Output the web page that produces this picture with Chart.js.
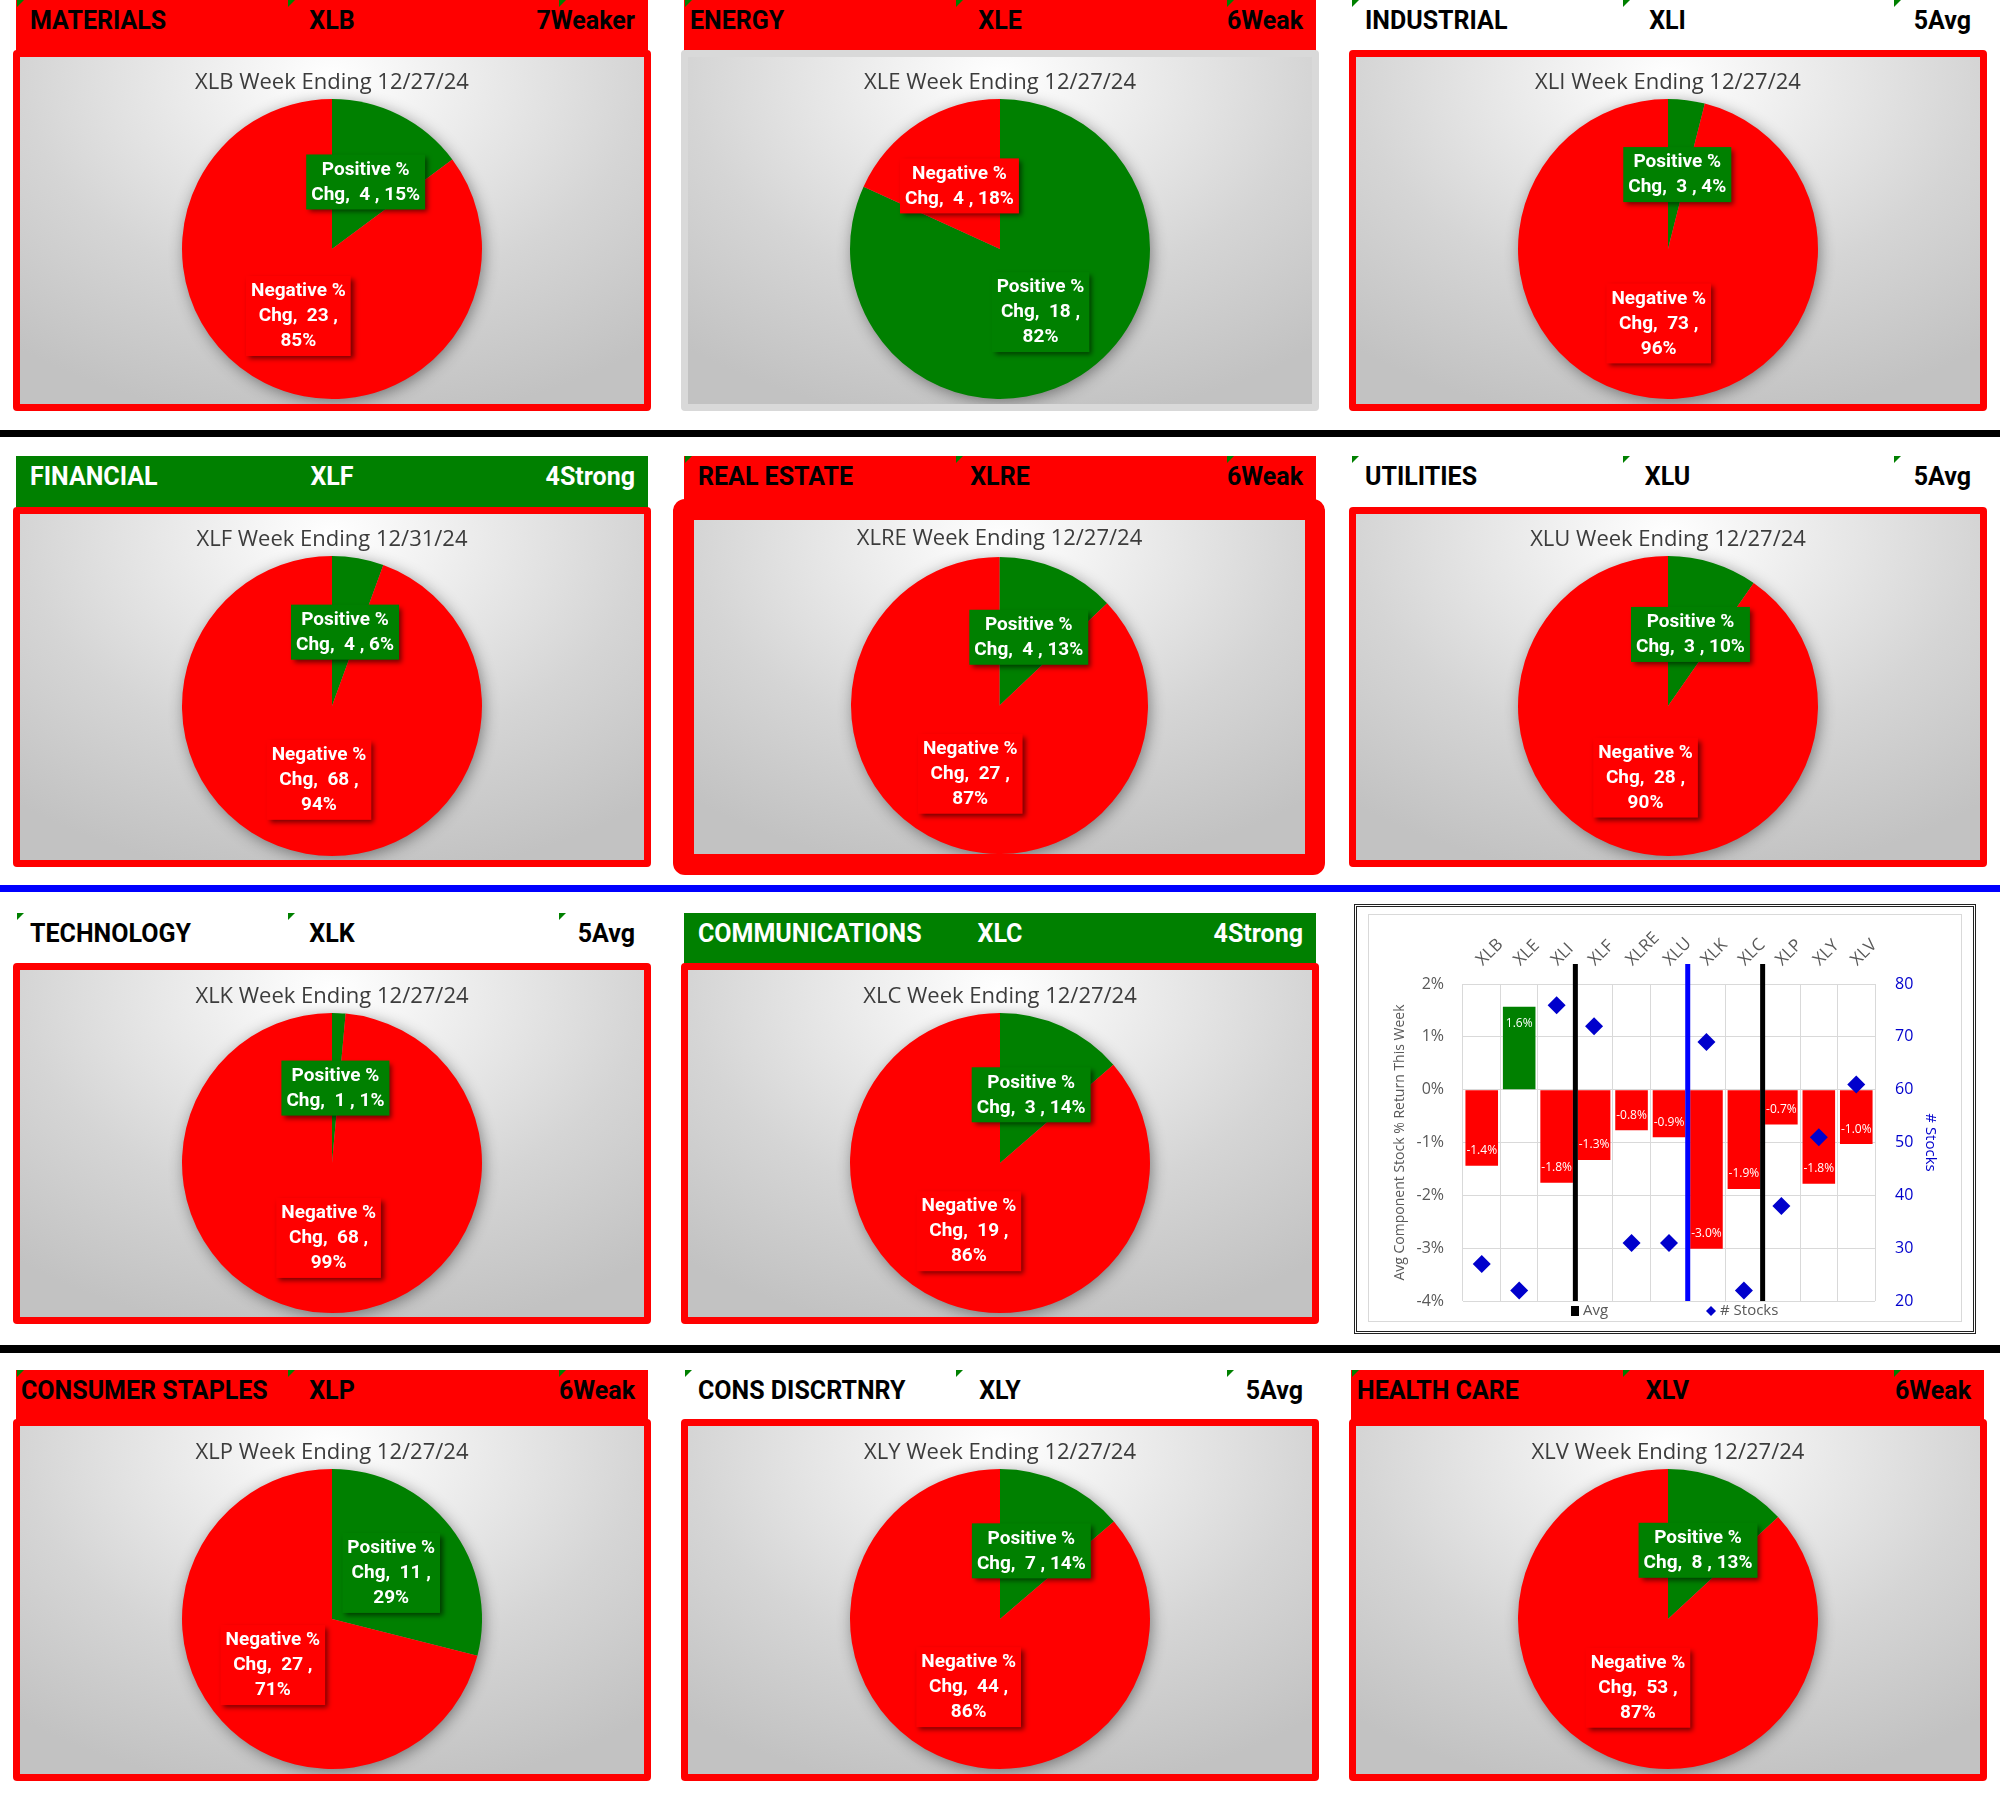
<!DOCTYPE html>
<html>
<head>
<meta charset="utf-8">
<title>Sector breadth</title>
<script src="https://cdn.jsdelivr.net/npm/chart.js@4.4.1/dist/chart.umd.min.js"></script>
<style>
  html, body { margin: 0; padding: 0; background: #fff; }
  body { width: 2000px; height: 1802px; position: relative; overflow: hidden; font-family: Roboto, "Open Sans", sans-serif; }
  .abs { position: absolute; box-sizing: border-box; }
  .hdr { z-index: 1; }
  .hdr span { position: absolute; top: 0; line-height: 42px; font-size: 25px; font-weight: 700; white-space: nowrap; }
  .tri { position: absolute; top: 0; width: 0; height: 0; border-top: 7px solid #008000; border-right: 7px solid transparent; }
  .panel { z-index: 2; border: 7px solid #ff0000; border-radius: 4px; background: #fff; }
  .inner { position: absolute; left: 0; top: 0; right: 0; bottom: 0;
    background: radial-gradient(ellipse 80% 100% at 50% 6%, #ffffff 0%, #ececec 28%, #d5d5d5 62%, #c2c2c2 100%); }
  .sep { left: 0; width: 2000px; }
</style>
</head>
<body>
<script>
// ---- data ----
const sectorNames = ['MATERIALS', 'ENERGY', 'INDUSTRIAL', 'FINANCIAL', 'REAL ESTATE', 'UTILITIES',
  'TECHNOLOGY', 'COMMUNICATIONS', 'CONSUMER STAPLES', 'CONS DISCRTNRY', 'HEALTH CARE'];
const tickers = ['XLB', 'XLE', 'XLI', 'XLF', 'XLRE', 'XLU', 'XLK', 'XLC', 'XLP', 'XLY', 'XLV'];
const ratings = ['7Weaker', '6Weak', '5Avg', '4Strong', '6Weak', '5Avg', '5Avg', '4Strong', '6Weak', '5Avg', '6Weak'];
const weekEnding = ['12/27/24', '12/27/24', '12/27/24', '12/31/24', '12/27/24', '12/27/24',
  '12/27/24', '12/27/24', '12/27/24', '12/27/24', '12/27/24'];
const sliceNames = ['Positive % Chg', 'Negative % Chg'];
const positiveCounts = [4, 18, 3, 4, 4, 3, 1, 3, 11, 7, 8];
const negativeCounts = [23, 4, 73, 68, 27, 28, 68, 19, 27, 44, 53];
const avgReturnPct = [-1.44, 1.57, -1.76, -1.33, -0.77, -0.90, -3.01, -1.88, -0.66, -1.78, -1.03];
const stockCounts = [27, 22, 76, 72, 31, 31, 69, 22, 38, 51, 61];
const returnTicks = [-4, -3, -2, -1, 0, 1, 2];
const stockTicks = [20, 30, 40, 50, 60, 70, 80];
const groupBreaks = [3, 6, 8];   // vertical divider before these categories

// ---- layout ----
const GREEN = '#008000', RED = '#ff0000';
const hdrLeft = [16, 684, 1351];
const hdrW = [632, 632, 633];
const panelLeft = [13, 681, 1349];
const panelW = 638;
const rowHdrTop = [0, 456, 913, 1370];
const rowPanelTop = [50, 507, 963, 1419];
const rowPanelH = [361, 360, 361, 362];
const rowPieCenter = [199, 199, 200, 200];
const slots = [[0, 0], [0, 1], [0, 2], [1, 0], [1, 1], [1, 2], [2, 0], [2, 1], [3, 0], [3, 1], [3, 2]];
const leftIndent = { 1: 6, 8: 5, 10: 6 };
const groupBreakColors = ['#000000', '#0000ff', '#000000'];

function box(cls, x, y, w, h, parent) {
  const d = document.createElement('div');
  d.className = 'abs ' + cls;
  d.style.left = x + 'px'; d.style.top = y + 'px';
  d.style.width = w + 'px'; d.style.height = h + 'px';
  (parent || document.body).appendChild(d);
  return d;
}

// row separators
box('sep', 0, 430, 2000, 7).style.background = '#000';
box('sep', 0, 885, 2000, 7).style.background = '#0000ff';
box('sep', 0, 1345, 2000, 8).style.background = '#000';

// pie helpers
const pieShadow = {
  id: 'pieShadow',
  beforeDatasetsDraw(chart) {
    const arc = chart.getDatasetMeta(0).data[0];
    if (!arc) return;
    const ctx = chart.ctx;
    ctx.save();
    ctx.shadowColor = 'rgba(0,0,0,0.45)';
    ctx.shadowBlur = 16;
    ctx.shadowOffsetX = 2;
    ctx.shadowOffsetY = 3;
    ctx.fillStyle = '#999';
    ctx.beginPath();
    ctx.arc(arc.x, arc.y, arc.outerRadius - 1, 0, Math.PI * 2);
    ctx.fill();
    ctx.restore();
  }
};

const pieLabels = {
  id: 'pieLabels',
  afterDatasetsDraw(chart) {
    const ds = chart.data.datasets[0];
    const total = ds.data.reduce((a, b) => a + b, 0);
    const ctx = chart.ctx;
    ctx.save();
    ctx.font = 'bold 19px Roboto';
    chart.getDatasetMeta(0).data.forEach((arc, j) => {
      const v = ds.data[j];
      const pct = Math.round(v / total * 100) + '%';
      const head = chart.data.labels[j].replace(/ Chg$/, '');
      const lines = v >= 10 ? [head, 'Chg,  ' + v + ' ,', pct] : [head, 'Chg,  ' + v + ' , ' + pct];
      const p = arc.tooltipPosition(true);
      const lh = 25;
      const w = Math.max(...lines.map(t => ctx.measureText(t).width)) + 10;
      const h = lines.length * lh + 5;
      ctx.save();
      ctx.shadowColor = 'rgba(0,0,0,0.55)';
      ctx.shadowBlur = 5;
      ctx.shadowOffsetX = 3;
      ctx.shadowOffsetY = 3;
      ctx.fillStyle = ds.backgroundColor[j];
      ctx.fillRect(p.x - w / 2, p.y - h / 2, w, h);
      ctx.restore();
      ctx.fillStyle = '#fff';
      ctx.textAlign = 'center';
      ctx.textBaseline = 'middle';
      lines.forEach((t, k) => ctx.fillText(t, p.x, p.y - h / 2 + 3 + lh * (k + 0.5)));
    });
    ctx.restore();
  }
};

function makePie(parent, i, innerH, titleCenter, pieTop, R) {
  const cv = document.createElement('canvas');
  parent.appendChild(cv);
  new Chart(cv, {
    type: 'pie',
    data: {
      labels: sliceNames,
      datasets: [{
        data: [positiveCounts[i], negativeCounts[i]],
        backgroundColor: [GREEN, RED],
        borderWidth: 0
      }]
    },
    options: {
      responsive: true,
      maintainAspectRatio: false,
      animation: false,
      layout: { padding: { top: 0, left: 0, right: 0, bottom: innerH - pieTop - 2 * R } },
      plugins: {
        legend: { display: false },
        tooltip: { enabled: false },
        title: {
          display: true,
          text: tickers[i] + ' Week Ending ' + weekEnding[i],
          color: '#3c3c3c',
          font: { family: 'Open Sans', size: 22, weight: 500, lineHeight: 1.2 },
          padding: { top: titleCenter - 13.2, bottom: pieTop - titleCenter - 13.2 }
        }
      }
    },
    plugins: [pieShadow, pieLabels]
  });
}

// sector panels
sectorNames.forEach((name, i) => {
  const [r, c] = slots[i];
  const grade = parseInt(ratings[i], 10);
  const fill = grade <= 4 ? GREEN : (grade >= 6 ? RED : 'transparent');
  const txt = grade <= 4 ? '#fff' : '#000';
  const hy = rowHdrTop[r], hh = rowPanelTop[r] - hy + 4;
  const hdr = box('hdr', hdrLeft[c], hy, hdrW[c], hh);
  hdr.style.background = fill;
  if (grade > 4) {
    [1, 272, 543].forEach(x => { const t = document.createElement('div'); t.className = 'tri'; t.style.left = x + 'px'; hdr.appendChild(t); });
  }
  const s1 = document.createElement('span');
  s1.textContent = name; s1.style.left = (leftIndent[i] !== undefined ? leftIndent[i] : 14) + 'px'; s1.style.color = txt;
  const s2 = document.createElement('span');
  s2.textContent = tickers[i]; s2.style.left = '0'; s2.style.width = '100%'; s2.style.textAlign = 'center'; s2.style.color = txt;
  const s3 = document.createElement('span');
  s3.textContent = ratings[i]; s3.style.right = '13px'; s3.style.color = txt;
  hdr.append(s1, s2, s3);

  if (tickers[i] === 'XLRE') {
    const p = box('panel', 673, 499, 652, 376);
    p.style.borderWidth = '21px'; p.style.borderRadius = '12px';
    const inner = box('inner', 0, 0, 611, 334, p);
    inner.style.position = 'absolute';
    makePie(inner, i, 334, 19, 37, 148.5);
  } else {
    const p = box('panel', panelLeft[c], rowPanelTop[r], panelW, rowPanelH[r]);
    if (tickers[i] === 'XLE') p.style.borderColor = '#d9d9d9';
    const innerH = rowPanelH[r] - 14;
    const inner = box('inner', 0, 0, panelW - 14, innerH, p);
    makePie(inner, i, innerH, rowPieCenter[r] - 7 - 166, rowPieCenter[r] - 7 - 150, 150);
  }
});

// ---- combined bar / diamond chart ----
const frame = box('', 1354, 904, 622, 430);
frame.style.border = '3px double #222';
frame.style.zIndex = 2;
const plotBox = box('', 1368, 914, 594, 408);
plotBox.style.border = '1px solid #d9d9d9';
plotBox.style.background = '#fff';
plotBox.style.zIndex = 3;
const comboCanvas = document.createElement('canvas');
plotBox.appendChild(comboCanvas);

const dividers = {
  id: 'dividers',
  afterDatasetsDraw(chart) {
    const { ctx, chartArea } = chart;
    const xs = chart.scales.x;
    ctx.save();
    ctx.lineWidth = 5;
    groupBreaks.forEach((b, k) => {
      const x = (xs.getPixelForValue(b - 1) + xs.getPixelForValue(b)) / 2;
      ctx.strokeStyle = groupBreakColors[k];
      ctx.beginPath();
      ctx.moveTo(x, chartArea.top - 20);
      ctx.lineTo(x, chartArea.bottom);
      ctx.stroke();
    });
    ctx.restore();
  }
};

const barLabels = {
  id: 'barLabels',
  afterDraw(chart) {
    const ctx = chart.ctx;
    const idx = chart.data.datasets.findIndex(d => d.type === 'bar');
    const meta = chart.getDatasetMeta(idx);
    const vals = chart.data.datasets[idx].data;
    ctx.save();
    ctx.font = '12px "Open Sans"';
    ctx.fillStyle = '#fff';
    ctx.textAlign = 'center';
    ctx.textBaseline = 'middle';
    meta.data.forEach((bar, j) => {
      const v = vals[j];
      const y = v < 0 ? bar.y - 15 : bar.y + 17;
      ctx.fillText(v.toFixed(1) + '%', bar.x, y);
    });
    ctx.restore();
  }
};

const comboLegend = {
  id: 'comboLegend',
  afterDraw(chart) {
    const { ctx, chartArea } = chart;
    const y = chartArea.bottom + 10;
    ctx.save();
    ctx.font = '15px "Open Sans"';
    ctx.textBaseline = 'middle';
    ctx.fillStyle = '#000';
    ctx.fillRect(chartArea.left + 108, y - 5, 8, 10);
    ctx.fillStyle = '#595959';
    ctx.fillText('Avg', chartArea.left + 120, y);
    ctx.fillStyle = '#0000cc';
    const dx = chartArea.left + 248;
    ctx.beginPath();
    ctx.moveTo(dx, y - 5); ctx.lineTo(dx + 5, y); ctx.lineTo(dx, y + 5); ctx.lineTo(dx - 5, y); ctx.closePath();
    ctx.fill();
    ctx.fillStyle = '#595959';
    ctx.fillText('# Stocks', dx + 9, y);
    ctx.restore();
  }
};

new Chart(comboCanvas, {
  data: {
    labels: tickers,
    datasets: [
      {
        type: 'line', label: '# Stocks', data: stockCounts, yAxisID: 'y1',
        showLine: false, pointStyle: 'rectRot', pointRadius: 9, pointHoverRadius: 9,
        backgroundColor: '#0000cc', borderColor: '#0000cc', borderWidth: 0, order: 0
      },
      {
        type: 'bar', label: 'Avg', data: avgReturnPct, yAxisID: 'y',
        backgroundColor: avgReturnPct.map(v => v >= 0 ? GREEN : RED),
        barPercentage: 0.87, categoryPercentage: 1, order: 1
      }
    ]
  },
  options: {
    responsive: true,
    maintainAspectRatio: false,
    animation: false,
    layout: { padding: { bottom: 20 } },
    plugins: { legend: { display: false }, tooltip: { enabled: false } },
    scales: {
      x: {
        position: 'top',
        grid: { color: '#d9d9d9', offset: true, drawTicks: false },
        border: { display: false },
        ticks: { minRotation: 45, maxRotation: 45, padding: 14, labelOffset: 12, color: '#595959', font: { family: 'Open Sans', size: 17 } },
        afterFit: s => { s.height = 69; }
      },
      y: {
        position: 'left',
        min: returnTicks[0], max: returnTicks[returnTicks.length - 1],
        grid: { color: '#d9d9d9', drawTicks: true, tickLength: 16, tickColor: 'rgba(0,0,0,0)' },
        border: { display: false },
        ticks: { stepSize: 1, padding: 3, color: '#595959', font: { family: 'Open Sans', size: 16 }, callback: v => v + '%' },
        title: {
          display: true, text: 'Avg Component Stock % Return This Week', color: '#595959',
          font: { family: 'Open Sans', size: 14 }, padding: { top: 23, bottom: 0 }
        },
        afterFit: s => { s.width = 94; }
      },
      y1: {
        position: 'right',
        min: stockTicks[0], max: stockTicks[stockTicks.length - 1],
        grid: { display: true, drawOnChartArea: false, drawTicks: true, tickLength: 17, tickColor: 'rgba(0,0,0,0)' },
        border: { display: false },
        ticks: { stepSize: 10, padding: 3, color: '#0000cc', font: { family: 'Open Sans', size: 16 } },
        title: {
          display: true, text: '# Stocks', color: '#0000cc',
          font: { family: 'Open Sans', size: 15 }, padding: { top: 22, bottom: 0 }
        },
        afterFit: s => { s.width = 86; }
      }
    }
  },
  plugins: [dividers, barLabels, comboLegend]
});
</script>
</body>
</html>
